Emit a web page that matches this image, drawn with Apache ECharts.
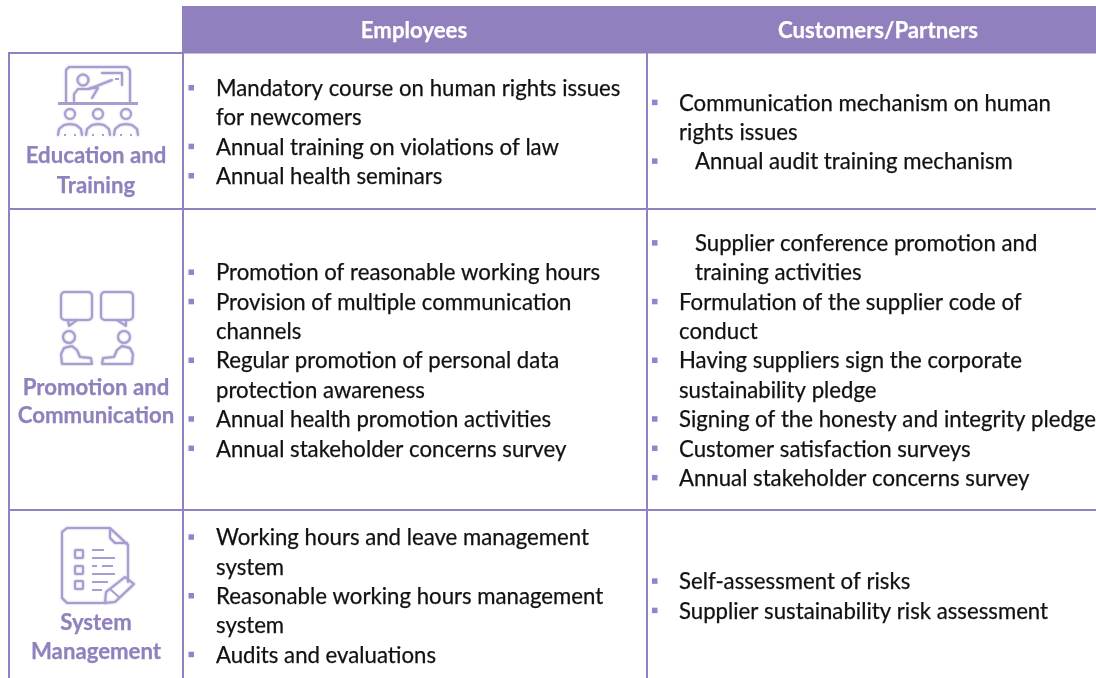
<!DOCTYPE html>
<html>
<head>
<meta charset="utf-8">
<style>
html,body{margin:0;padding:0;background:#fff}
#main{width:1096px;height:678px}
</style>
<script src="https://cdn.jsdelivr.net/npm/echarts@6/dist/echarts.min.js"></script>
</head>
<body>
<div id="main"></div>
<script>
// table content
var columnTitles=['Employees','Customers/Partners'];
var rowTitles=[['Education and','Training'],['Promotion and','Communication'],['System','Management']];
var employeeItems=[
    [['Mandatory course on human rights issues','for newcomers'],['Annual training on violations of law'],['Annual health seminars']],
    [['Promotion of reasonable working hours'],['Provision of multiple communication','channels'],['Regular promotion of personal data','protection awareness'],['Annual health promotion activities'],['Annual stakeholder concerns survey']],
    [['Working hours and leave management','system'],['Reasonable working hours management','system'],['Audits and evaluations']]
];
var customerItems=[
    [['Communication mechanism on human','rights issues'],['Annual audit training mechanism']],
    [['Supplier conference promotion and','training activities'],['Formulation of the supplier code of','conduct'],['Having suppliers sign the corporate','sustainability pledge'],['Signing of the honesty and integrity pledge'],['Customer satisfaction surveys'],['Annual stakeholder concerns survey']],
    [['Self-assessment of risks'],['Supplier sustainability risk assessment']]
];
var indentedItems=['Annual audit training mechanism','Supplier conference promotion and'];

// layout
var purple='#9080bd';
var lineColor='#9181c1';
var iconColor='#a99dd0';
var bodyFont='22.2px Lato, "Noto Sans", sans-serif';
var boldFont='bold 22.2px Lato, "Noto Sans", sans-serif';
var linePitch=29.35;
var rowLines=[53,209,510];
var rowBottom=678;
var rowMid=[132,360.5,596];
var titleMid=[[155,185],[387,415],[622,651]];

var els=[];
function line(x1,y1,x2,y2,w,c){
    els.push({type:'line',silent:true,shape:{x1:x1,y1:y1,x2:x2,y2:y2},style:{stroke:c||lineColor,lineWidth:w||2}});
}
function label(t,x,y,font,fill,align){
    els.push({type:'text',silent:true,style:{text:t,x:x,y:y+0.8,font:font,fill:fill,stroke:fill,lineWidth:0.25,textAlign:align||'left',textVerticalAlign:'middle'}});
}
function icoStyle(){
    return {stroke:iconColor,fill:null,lineWidth:2,lineCap:'round',lineJoin:'round',shadowBlur:2,shadowColor:iconColor};
}
function poly(pts,closed){
    els.push({type:closed?'polygon':'polyline',silent:true,shape:{points:pts},style:icoStyle()});
}
function circ(x,y,r){
    els.push({type:'circle',silent:true,shape:{cx:x,cy:y,r:r},style:icoStyle()});
}
function box(x,y,w,h,r){
    els.push({type:'rect',silent:true,shape:{x:x,y:y,width:w,height:h,r:r},style:icoStyle()});
}

// header band
els.push({type:'rect',silent:true,shape:{x:182,y:6,width:914,height:47.5},style:{fill:purple}});
label(columnTitles[0],414,30,boldFont,'#fff','center');
label(columnTitles[1],878,30,boldFont,'#fff','center');

// grid lines
line(9,52,9,rowBottom);
line(183,52,183,rowBottom);
line(647,52,647,rowBottom);
line(8,rowLines[0],182,rowLines[0]);
line(8,rowLines[1],1096,rowLines[1]);
line(8,rowLines[2],1096,rowLines[2]);

// row titles
rowTitles.forEach(function(t,i){
    t.forEach(function(s,j){
        label(s,96,titleMid[i][j],boldFont,purple,'center');
    });
});

// bullet lists
function drawCell(items,mid,textX,bulletX){
    var total=0;
    items.forEach(function(it){total+=it.length});
    var y=mid-(total-1)*linePitch/2;
    items.forEach(function(it){
        var x=textX;
        if(indentedItems.indexOf(it[0])>=0) x=textX+16;
        els.push({type:'rect',silent:true,shape:{x:bulletX-2.5,y:y-3,width:5.5,height:5.5},style:{fill:'#9482cc'}});
        it.forEach(function(s){
            label(s,x,y,bodyFont,'#111');
            y+=linePitch;
        });
    });
}
for(var r=0;r<3;r++){
    drawCell(employeeItems[r],rowMid[r],216,191);
    drawCell(customerItems[r],rowMid[r],679,654.5);
}

// icon: presenter and audience
poly([[66,102],[66,70],[69,67],[127,67],[130,70],[130,102]]);
line(58,103.5,138,103.5,3,iconColor);
circ(83,80,5.5);
poly([[74,101],[74,94],[78,89],[89,89],[112,80]]);
poly([[90,88],[98,88],[92,98]]);
poly([[102,73],[122,73],[122,85]]);
line(115,79,119,79,2,iconColor);
[70,98,126].forEach(function(c){
    circ(c,114,5);
    poly([[c-12,135],[c-11,129],[c-6,125],[c,124],[c+6,125],[c+11,129],[c+12,135]]);
    line(c-5,134,c-5,136,2,iconColor);
    line(c+5,134,c+5,136,2,iconColor);
});

// icon: two people talking
box(61,292,31,28,4);
poly([[68,320],[69,326],[77,320]]);
box(101,292,32,28,4);
poly([[117,320],[126,326],[126,320]]);
circ(69,337,6);
circ(124,337,6);
poly([[62,364],[61,354],[64,348],[72,346],[77,350],[80,357],[91,358],[92,364],[62,364]]);
poly([[132,364],[133,354],[130,348],[122,346],[117,350],[114,357],[103,358],[102,364],[132,364]]);

// icon: checklist with pencil
poly([[105,603],[67,603],[62,598],[62,532],[67,528],[110,528],[128,545],[128,582]]);
poly([[110,530],[110,538],[115,543],[127,543]]);
[554,570,585].forEach(function(y){box(75,y-4,8,8,1)});
[[92,550,104,550],[92,558,115,558],[92,566,97,566],[102,566,113,566],[92,574,115,574],[92,582,108,582],[92,590,102,590]].forEach(function(s){
    line(s[0],s[1],s[2],s[3],2,iconColor);
});
poly([[106,592],[125,577],[134,584],[115,602],[105,603]],true);
line(110,589,120,598,2,iconColor);

var myChart=echarts.init(document.getElementById('main'));
myChart.setOption({
    animation:false,
    backgroundColor:'#fff',
    graphic:{elements:els}
});
</script>
</body>
</html>
